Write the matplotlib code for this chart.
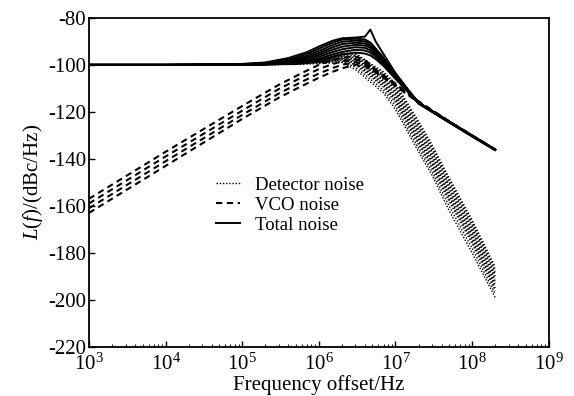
import matplotlib
matplotlib.use("Agg")
import matplotlib.pyplot as plt
from matplotlib.ticker import NullFormatter, LogLocator

plt.rcParams['font.family'] = ['Liberation Serif', 'DejaVu Serif']
plt.rcParams['mathtext.fontset'] = 'custom'
plt.rcParams['mathtext.rm'] = 'Liberation Serif'
plt.rcParams['mathtext.it'] = 'Liberation Serif:italic'
plt.rcParams['axes.unicode_minus'] = False

# ---------------- data ----------------
freq_det = [1e3, 1e5, 5e5, 1e6, 2e6, 3e6, 5e6, 7e6, 1e7, 2e7, 3e7, 5e7, 1e8, 2e8]
detector_noise = [
    [-100, -100, -99.5, -98.0, -95.0, -95.0, -100.0, -103.0, -108.0, -124.0, -134.0, -148.0, -166.0, -186.0],
    [-100, -100, -99.5, -98.1, -95.3, -95.5, -100.5, -103.7, -108.8, -125.0, -135.0, -149.0, -167.0, -187.0],
    [-100, -100, -99.5, -98.2, -95.6, -96.0, -101.0, -104.3, -109.6, -126.0, -136.0, -150.0, -168.0, -188.0],
    [-100, -100, -99.6, -98.3, -95.9, -96.5, -101.5, -105.0, -110.4, -127.0, -137.0, -151.0, -169.0, -189.0],
    [-100, -100, -99.6, -98.4, -96.2, -97.0, -102.0, -105.6, -111.2, -128.0, -138.0, -152.0, -170.0, -190.0],
    [-100, -100, -99.6, -98.5, -96.5, -97.5, -102.6, -106.3, -112.0, -129.0, -139.0, -153.0, -171.0, -191.0],
    [-100, -100, -99.6, -98.6, -96.8, -98.0, -103.2, -106.9, -112.8, -130.0, -140.0, -154.0, -172.0, -192.0],
    [-100, -100, -99.7, -98.7, -97.1, -98.5, -103.8, -107.6, -113.6, -131.0, -141.0, -155.0, -173.0, -193.0],
    [-100, -100, -99.7, -98.8, -97.4, -99.0, -104.4, -108.2, -114.4, -132.0, -142.0, -156.0, -174.0, -194.0],
    [-100, -100, -99.7, -98.9, -97.7, -99.5, -105.0, -108.9, -115.2, -133.0, -143.0, -157.0, -175.0, -195.0],
    [-100, -100, -99.7, -99.0, -98.0, -100.0, -105.6, -109.5, -116.0, -134.0, -144.0, -158.0, -176.0, -196.0],
    [-100, -100, -99.8, -99.2, -98.5, -101.0, -106.8, -110.8, -117.5, -135.5, -145.5, -160.0, -178.0, -197.5],
    [-100, -100, -99.8, -99.5, -99.0, -102.0, -108.0, -112.0, -119.0, -137.0, -147.0, -162.0, -180.0, -199.0],
]

freq_vco = [1e3, 1e4, 1e5, 3e5, 6e5, 1e6, 1.5e6, 2e6, 3e6, 4e6, 6e6, 1e7, 2e7, 5e7, 1e8, 2e8]
vco_noise = [
    [-157.0, -137.0, -117.5, -108.5, -103.5, -100.0, -98.0, -97.0, -96.5, -98.0, -103.0, -108.0, -115.5, -124.0, -130.0, -136.0],
    [-159.0, -139.0, -119.5, -110.3, -105.3, -101.8, -99.7, -98.5, -97.7, -98.8, -103.3, -108.3, -115.7, -124.1, -130.1, -136.1],
    [-161.0, -141.0, -121.3, -112.2, -107.2, -103.7, -101.4, -100.0, -98.9, -99.6, -103.7, -108.7, -115.9, -124.2, -130.2, -136.2],
    [-163.0, -143.0, -123.0, -114.0, -109.0, -105.5, -103.0, -101.5, -100.0, -100.5, -104.0, -109.0, -116.0, -124.3, -130.3, -136.3],
]

freq_tot = [1e3, 1e4, 1e5, 2e5, 4e5, 7e5, 1e6, 1.5e6, 2e6, 3e6, 4e6, 4.7e6, 5.5e6,
            7e6, 1e7, 1.5e7, 2e7, 5e7, 1e8, 2e8]
total_noise = [
    [-100, -100, -100.0, -99.9, -99.6, -98.9, -98.0, -96.6, -95.6, -94.8, -95.2, -96.0, -97.5, -100.5, -106.0, -112.0, -116.5, -124.5, -130.5, -136.3],
    [-100, -100, -99.9, -99.8, -99.4, -98.5, -97.4, -95.6, -94.5, -93.6, -93.9, -94.8, -96.5, -99.8, -105.5, -111.8, -116.4, -124.4, -130.4, -136.2],
    [-100, -100, -99.9, -99.7, -99.2, -98.0, -96.6, -94.6, -93.4, -92.5, -92.8, -93.8, -95.6, -99.2, -105.0, -111.6, -116.3, -124.3, -130.3, -136.2],
    [-100, -100, -99.9, -99.6, -98.9, -97.5, -95.8, -93.6, -92.3, -91.5, -91.8, -92.8, -94.8, -98.6, -104.8, -111.5, -116.3, -124.3, -130.3, -136.1],
    [-100, -100, -99.8, -99.5, -98.6, -96.9, -95.0, -92.6, -91.2, -90.6, -90.9, -92.0, -94.2, -98.0, -104.5, -111.4, -116.2, -124.2, -130.2, -136.1],
    [-100, -100, -99.8, -99.4, -98.2, -96.2, -94.1, -91.6, -90.2, -89.7, -90.0, -91.2, -93.6, -97.5, -104.3, -111.3, -116.2, -124.2, -130.2, -136.0],
    [-100, -100, -99.7, -99.2, -97.7, -95.4, -93.1, -90.6, -89.3, -88.9, -89.2, -90.5, -93.0, -97.0, -104.0, -111.2, -116.1, -124.1, -130.1, -136.0],
    [-100, -100, -99.6, -99.0, -97.1, -94.6, -92.2, -89.8, -88.7, -88.4, -88.0, -85.0, -90.0, -95.5, -103.5, -111.0, -116.0, -124.0, -130.0, -136.0],
]

legend_labels = ["Detector noise", "VCO noise", "Total noise"]
x_label = "Frequency offset/Hz"
y_label = r"$\mathit{L(f)}$/(dBc/Hz)"
x_ticks = [1e3, 1e4, 1e5, 1e6, 1e7, 1e8, 1e9]
y_ticks = [-220, -200, -180, -160, -140, -120, -100, -80]

# ---------------- plot ----------------
fig = plt.figure(figsize=(5.74, 3.96), dpi=100)
ax = fig.add_axes([0.155, 0.124, 0.801, 0.831])

for i, ys in enumerate(detector_noise):
    ax.plot(freq_det, ys, color='black', lw=1.0, linestyle=(i % 3, (1, 1.3)),
            label=legend_labels[0] if i == 0 else None)
for i, ys in enumerate(vco_noise):
    ax.plot(freq_vco, ys, color='black', lw=1.5, linestyle=(0, (3, 2.2)),
            label=legend_labels[1] if i == 0 else None)
for i, ys in enumerate(total_noise):
    ax.plot(freq_tot, ys, color='black', lw=1.4, linestyle='-',
            label=legend_labels[2] if i == 0 else None)

ax.set_xscale('log')
ax.set_xlim(1e3, 1e9)
ax.set_ylim(-220, -80)
ax.set_xticks(x_ticks)
ax.xaxis.set_minor_locator(LogLocator(base=10, subs=range(2, 10)))
ax.xaxis.set_minor_formatter(NullFormatter())
ax.set_yticks(y_ticks)
ax.set_xlabel(x_label, fontsize=15, labelpad=0)
ax.set_ylabel(y_label, fontsize=15, labelpad=2)

ax.tick_params(axis='both', which='major', direction='in', length=4, width=1,
               labelsize=15, top=False, right=False)
ax.tick_params(axis='x', which='minor', direction='in', length=2, width=0.8,
               top=False)
ax.tick_params(axis='x', which='major', pad=5)
ax.tick_params(axis='y', which='major', pad=2)
for s in ax.spines.values():
    s.set_linewidth(1.3)

leg = ax.legend(loc='upper left', bbox_to_anchor=(0.26, 0.54), frameon=False,
                fontsize=13.5, handlelength=1.3, handletextpad=0.8,
                labelspacing=0.15, borderaxespad=0)

fig.savefig('out.png', dpi=100)
